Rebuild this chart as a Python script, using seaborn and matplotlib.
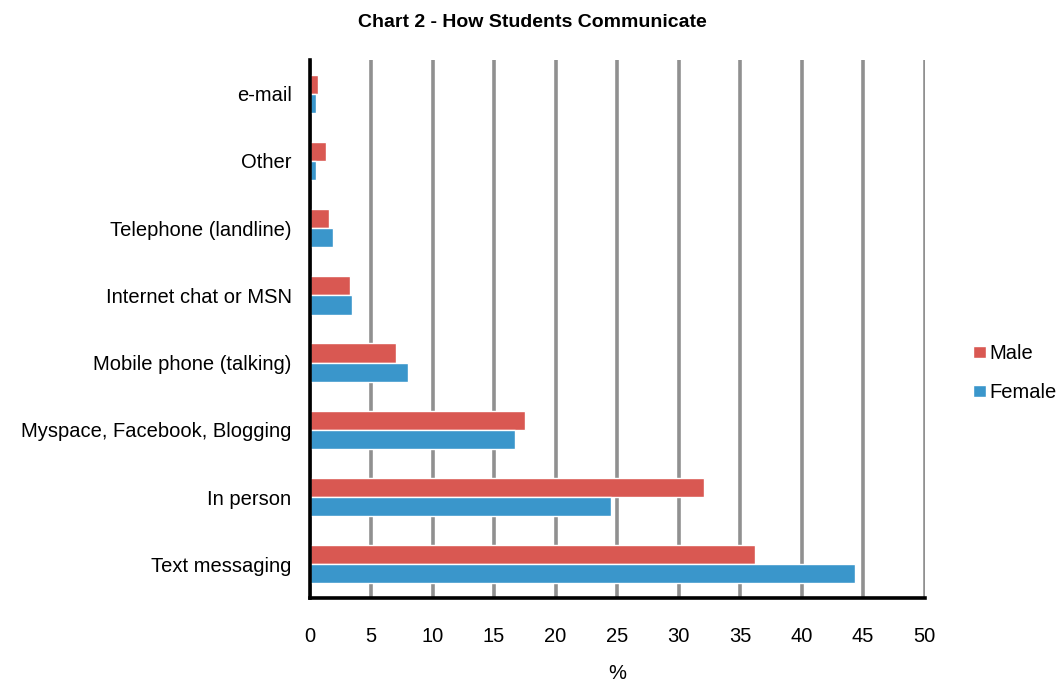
import matplotlib
matplotlib.use("Agg")
import matplotlib.pyplot as plt
import pandas as pd
import seaborn as sns

categories = ["e-mail", "Other", "Telephone (landline)", "Internet chat or MSN",
              "Mobile phone (talking)", "Myspace, Facebook, Blogging",
              "In person", "Text messaging"]
male = [0.65, 1.3, 1.6, 3.3, 7.05, 17.5, 32.05, 36.2]
female = [0.5, 0.5, 1.9, 3.45, 8.0, 16.7, 24.5, 44.3]
xticks = list(range(0, 55, 5))

df = pd.DataFrame({
    "category": categories * 2,
    "value": male + female,
    "sex": ["Male"] * len(categories) + ["Female"] * len(categories),
})

sns.set_theme(style="white")
plt.rcParams["font.family"] = ["Liberation Sans", "DejaVu Sans"]
plt.rcParams["text.color"] = "black"
plt.rcParams["xtick.color"] = "black"
plt.rcParams["ytick.color"] = "black"
plt.rcParams["axes.labelcolor"] = "black"

fig = plt.figure(figsize=(10.64, 6.84), dpi=100)
ax = fig.add_axes([0.291, 0.126, 0.578, 0.786])

sns.barplot(data=df, y="category", x="value", hue="sex", order=categories,
            hue_order=["Male", "Female"], palette=["#D95852", "#3A96CB"],
            width=0.57, orient="h", ax=ax, saturation=1)

ax.set_xlim(0, 50)
ax.set_ylim(len(categories) - 0.5, -0.5)
ax.set_xticks(xticks)
ax.set_xticklabels([str(t) for t in xticks], fontsize=14.5)
ax.tick_params(axis="x", length=0, pad=21)
ax.tick_params(axis="y", length=0, pad=13, labelsize=14.5)
ax.set_ylabel("")
ax.set_xlabel("%", fontsize=14.5, labelpad=13)

ax.grid(axis="x", color="#909090", linewidth=2.6)
ax.set_axisbelow(True)
for s in ["top", "right"]:
    ax.spines[s].set_visible(False)
for s in ["left", "bottom"]:
    ax.spines[s].set_color("black")
    ax.spines[s].set_linewidth(2.6)
    ax.spines[s].set_zorder(5)

leg = ax.legend(loc="center left", bbox_to_anchor=(1.05, 0.418), frameon=False,
                fontsize=14.5, handlelength=0.6, handleheight=0.6,
                handletextpad=0.2, labelspacing=1.0)

fig.suptitle("Chart 2 - How Students Communicate", fontsize=14,
             fontweight="bold", x=0.5, y=0.98)

fig.savefig("out.png", dpi=100)
